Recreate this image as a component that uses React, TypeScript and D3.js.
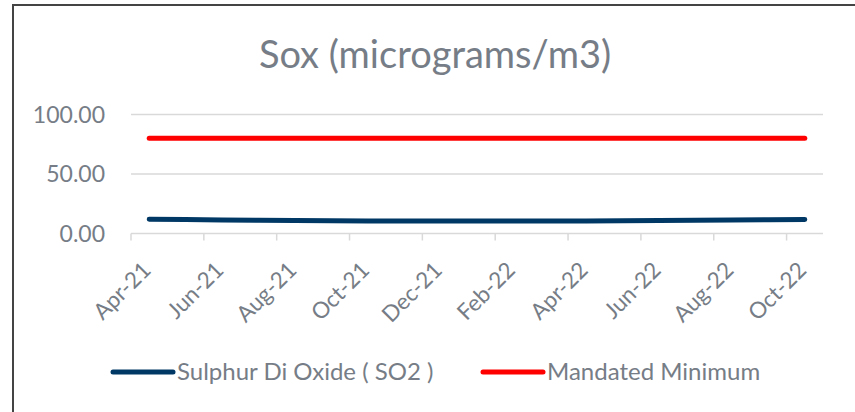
import React from "react";
import * as d3 from "d3";

const months = [
  "Apr-21","May-21","Jun-21","Jul-21","Aug-21","Sep-21","Oct-21","Nov-21","Dec-21","Jan-22",
  "Feb-22","Mar-22","Apr-22","May-22","Jun-22","Jul-22","Aug-22","Sep-22","Oct-22",
];
const so2 = [12.0, 11.7, 11.4, 11.2, 11.0, 10.8, 10.6, 10.5, 10.5, 10.4, 10.4, 10.5, 10.6, 10.8, 11.0, 11.2, 11.4, 11.6, 11.8];
const mandated = [80, 80, 80, 80, 80, 80, 80, 80, 80, 80, 80, 80, 80, 80, 80, 80, 80, 80, 80];
const yTicks = [0, 50, 100];
const seriesNames = ["Sulphur Di Oxide ( SO2 )", "Mandated Minimum"];
const colors = ["#003865", "#ff0000"];

const W = 855, H = 412;
const FONT = "Lato, 'Open Sans', sans-serif";
const TXT = "#767d86";

export default function App() {
  const x = d3.scaleBand<string>().domain(months).range([131, 823]);
  const y = d3.scaleLinear().domain([0, 100]).range([233.5, 114.5]);
  const cx = (m: string) => (x(m) as number) + x.bandwidth() / 2;
  const line = d3.line<number>().x((_, i) => cx(months[i])).y((v) => y(v));
  const series = [so2, mandated];
  const tickIdx = d3.range(0, months.length + 1, 2);

  return (
    <svg width={W} height={H} style={{ position: "absolute", left: 0, top: 0, fontFamily: FONT }}>
      <rect x={0} y={0} width={W} height={H} fill="#fff" />
      <rect x={13} y={5} width={W + 20} height={H + 20} fill="none" stroke="#444" strokeWidth={2} />
      <text x={435} y={68} textAnchor="middle" fontSize={38} fill={TXT}>Sox (micrograms/m3)</text>
      {yTicks.map((t) => (
        <g key={t}>
          {t > 0 && <line x1={131} x2={823} y1={y(t)} y2={y(t)} stroke="#d9d9d9" strokeWidth={1.5} />}
          <text x={105} y={y(t)} dy="0.35em" textAnchor="end" fontSize={23} fill={TXT}>
            {t.toFixed(2)}
          </text>
        </g>
      ))}
      <line x1={131} x2={823} y1={y(0)} y2={y(0)} stroke="#d9d9d9" strokeWidth={1.5} />
      {tickIdx.map((i) => {
        const xx = i < months.length ? (x(months[i]) as number) : 823;
        return <line key={i} x1={xx} x2={xx} y1={y(0)} y2={y(0) + 7} stroke="#d9d9d9" strokeWidth={1.5} />;
      })}
      {months.map((m, i) =>
        i % 2 === 0 ? (
          <text
            key={m}
            transform={`translate(${cx(m) + 3},${y(0) + 38}) rotate(-45)`}
            textAnchor="end"
            fontSize={22.5}
            fill={TXT}
          >
            {m}
          </text>
        ) : null
      )}
      {series.map((s, k) => (
        <path key={k} d={line(s) || ""} fill="none" stroke={colors[k]} strokeWidth={5} strokeLinecap="round" strokeLinejoin="round" />
      ))}
      {seriesNames.map((n, k) => {
        const lx = k === 0 ? 113 : 483;
        return (
          <g key={n}>
            <line x1={lx} x2={lx + 60} y1={372} y2={372} stroke={colors[k]} strokeWidth={5} strokeLinecap="round" />
            <text x={lx + 64} y={372} dy="0.35em" fontSize={24} fill={TXT}>{n}</text>
          </g>
        );
      })}
    </svg>
  );
}
